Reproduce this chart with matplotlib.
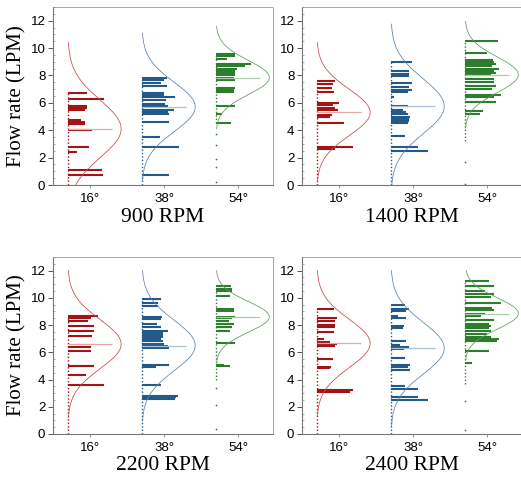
import numpy as np
import matplotlib
matplotlib.use("Agg")
import matplotlib.pyplot as plt
from matplotlib.ticker import MultipleLocator

rpm_labels = ["900 RPM", "1400 RPM", "2200 RPM", "2400 RPM"]
angles = ["16°", "38°", "54°"]

# stacked-dot bars: flow value and number of stacked points
v900_16 = [6.7, 6.25, 5.8, 5.65, 5.5, 4.75, 4.6, 4.45, 4.0, 2.8, 2.4, 1.1, 0.7]
n900_16 = [19, 36, 19, 19, 17, 13, 17, 17, 24, 21, 9, 34, 35]
v900_38 = [7.8, 7.65, 7.45, 7.2, 6.7, 6.6, 6.4, 6.2, 5.9, 5.75, 5.5, 5.35, 5.15, 4.6, 3.5, 2.75, 0.75]
n900_38 = [25, 22, 19, 25, 22, 22, 33, 24, 23, 26, 32, 26, 27, 27, 18, 37, 27]
v900_54 = [9.6, 9.4, 9.2, 8.85, 8.7, 8.5, 8.3, 8.2, 8.0, 7.85, 7.75, 7.65, 7.1, 6.95, 6.8, 5.8, 5.15, 4.5]
n900_54 = [19, 19, 11, 35, 29, 21, 19, 19, 19, 18, 19, 19, 19, 18, 18, 19, 6, 15]

v1400_16 = [7.6, 7.4, 7.1, 6.8, 6.0, 5.85, 5.6, 5.45, 5.1, 4.95, 4.5, 2.75, 2.6]
n1400_16 = [18, 16, 15, 17, 22, 16, 18, 21, 15, 13, 27, 36, 18]
v1400_38 = [8.95, 8.3, 8.1, 7.95, 7.45, 7.15, 6.95, 6.8, 6.4, 5.8, 5.5, 5.3, 5.2, 5.0, 4.85, 4.7, 4.55, 3.55, 2.75, 2.45]
n1400_38 = [21, 18, 18, 18, 21, 18, 21, 17, 3, 17, 12, 15, 17, 19, 18, 18, 17, 14, 27, 37]
v1400_54 = [10.5, 9.65, 9.1, 9.0, 8.85, 8.7, 8.5, 8.35, 8.2, 8.0, 7.75, 7.5, 7.2, 7.0, 6.6, 6.45, 6.05, 5.4, 5.15]
n1400_54 = [33, 22, 28, 29, 31, 27, 34, 29, 31, 26, 29, 29, 31, 27, 36, 29, 31, 18, 15]

v2200_16 = [8.65, 8.5, 8.3, 7.95, 7.6, 7.2, 6.4, 6.1, 5.0, 4.35, 3.6]
n2200_16 = [30, 23, 20, 26, 26, 24, 23, 23, 26, 18, 36]
v2200_38 = [9.9, 9.6, 9.4, 8.6, 8.45, 8.05, 7.85, 7.6, 7.45, 7.25, 7.1, 6.95, 6.8, 6.6, 6.45, 6.35,
            5.1, 4.95, 3.6, 2.8, 2.7, 2.6]
n2200_38 = [19, 16, 16, 20, 19, 15, 19, 26, 21, 21, 21, 19, 21, 22, 26, 27, 27, 14, 19, 36, 34, 33]
v2200_54 = [10.85, 10.65, 10.5, 10.1, 9.2, 9.05, 8.6, 8.5, 8.3, 8.1, 7.85, 7.6, 6.7, 5.1, 5.0]
n2200_54 = [15, 16, 16, 14, 18, 18, 19, 16, 13, 18, 16, 14, 19, 8, 14]

v2400_16 = [9.2, 8.5, 8.3, 8.0, 7.85, 7.5, 6.95, 6.75, 6.6, 6.5, 5.5, 4.95, 4.85, 3.2, 3.1]
n2400_16 = [17, 20, 18, 18, 18, 17, 7, 13, 20, 18, 16, 14, 13, 36, 33]
v2400_38 = [9.45, 9.2, 9.0, 8.7, 8.5, 7.9, 7.75, 6.8, 6.55, 6.4, 6.25, 5.6, 5.1, 4.95, 4.7, 3.55, 3.3, 2.75, 2.5]
n2400_38 = [14, 18, 15, 7, 15, 13, 12, 15, 9, 18, 13, 14, 19, 17, 19, 14, 27, 27, 37]
v2400_54 = [11.25, 10.85, 10.5, 10.25, 10.05, 9.6, 9.25, 9.1, 8.85, 8.65, 8.35, 8.1, 7.95, 7.75,
            7.6, 7.35, 7.15, 6.95, 6.85, 6.1, 5.25]
n2400_54 = [24, 29, 20, 29, 26, 36, 27, 29, 20, 16, 29, 24, 26, 24, 26, 22, 26, 34, 32, 24, 7]

# range of the raw point column and loose single points
col900 = [(0.0, 6.7), (0.0, 7.8), (4.5, 9.6)]
col1400 = [(0.0, 7.6), (0.0, 8.95), (3.2, 10.5)]
col2200 = [(0.0, 8.7), (0.0, 9.9), (4.0, 10.85)]
col2400 = [(0.0, 9.2), (0.0, 9.45), (3.7, 11.25)]
single900_54 = [3.7, 2.9, 1.9, 1.3, 0.25]
single1400_54 = [1.7, 0.1]
single2200_54 = [3.4, 2.1, 0.35]
single2400_54 = [2.4, 0.3]

# normal fit: mean and standard deviation
mu900, sd900 = [4.1, 5.7, 7.85], [2.1, 1.8, 1.25]
mu1400, sd1400 = [5.3, 5.75, 8.05], [1.7, 2.0, 1.3]
mu2200, sd2200 = [6.6, 6.5, 8.6], [1.8, 1.85, 1.13]
mu2400, sd2400 = [6.65, 6.3, 8.85], [1.78, 1.9, 1.15]

colors = ["#a31515", "#245a8a", "#2e7d2e"]
curve_colors = ["#c44a4a", "#5a82ad", "#5c9c5c"]
mean_colors = ["#e8a8a8", "#a8c0da", "#a8d0a8"]

panels = [
    ([v900_16, v900_38, v900_54], [n900_16, n900_38, n900_54], col900,
     [[], [], single900_54], mu900, sd900),
    ([v1400_16, v1400_38, v1400_54], [n1400_16, n1400_38, n1400_54], col1400,
     [[], [], single1400_54], mu1400, sd1400),
    ([v2200_16, v2200_38, v2200_54], [n2200_16, n2200_38, n2200_54], col2200,
     [[], [], single2200_54], mu2200, sd2200),
    ([v2400_16, v2400_38, v2400_54], [n2400_16, n2400_38, n2400_54], col2400,
     [[], [], single2400_54], mu2400, sd2400),
]

fig = plt.figure(figsize=(5.21, 4.79), dpi=100)
rects = [
    [53 / 521, 1 - 185 / 479, 220 / 521, 178 / 479],
    [302 / 521, 1 - 185 / 479, 220 / 521, 178 / 479],
    [53 / 521, 1 - 434 / 479, 220 / 521, 177 / 479],
    [302 / 521, 1 - 434 / 479, 220 / 521, 177 / 479],
]

dot_w = 1 / 74.0
offset = -0.30
peak = 0.72
mean_len = 0.60

for k, (vals, cnts, cols, singles, mus, sds) in enumerate(panels):
    ax = fig.add_axes(rects[k])
    for i in range(3):
        pos = i + 1
        base = pos + offset
        c = colors[i]
        lo, hi = cols[i]
        ax.vlines(base, lo, hi, color=c, lw=1.0, linestyles=(0, (1, 1.5)))
        if singles[i]:
            ax.scatter(np.full(len(singles[i]), base), singles[i], s=1.5, color=c, lw=0)
        v = np.array(vals[i])
        n = np.array(cnts[i])
        ax.hlines(v, base, base + n * dot_w, color=c, lw=1.5)
        # normal curve
        y = np.linspace(max(0, mus[i] - 3 * sds[i]), min(12, mus[i] + 3 * sds[i]), 300)
        x = base + peak * np.exp(-(y - mus[i]) ** 2 / (2 * sds[i] ** 2))
        ax.plot(x, y, color=curve_colors[i], lw=0.55)
        ax.hlines(mus[i], base, base + mean_len, color=mean_colors[i], lw=0.9)

    ax.set_xlim(0.5, 3.47)
    ax.set_ylim(0, 13)
    ax.set_xticks([1, 2, 3])
    ax.set_xticklabels(angles, family="Liberation Sans", fontsize=9.5)
    ax.set_yticks(range(0, 13, 2))
    ax.set_yticklabels([str(t) for t in range(0, 13, 2)], family="Liberation Sans", fontsize=9.5)
    ax.yaxis.set_minor_locator(MultipleLocator(0.5))
    ax.tick_params(axis="y", which="major", direction="out", length=3.5, width=0.7,
                   colors="#555555", labelcolor="black", pad=2)
    ax.tick_params(axis="y", which="minor", direction="in", length=1.5, width=0.5, colors="#888888")
    ax.tick_params(axis="x", which="major", direction="out", length=2, width=0.6,
                   colors="#888888", labelcolor="black", pad=4)
    for side in ["left", "bottom"]:
        ax.spines[side].set_color("#777777")
        ax.spines[side].set_linewidth(0.8)
    for side in ["top", "right"]:
        ax.spines[side].set_color("#999999")
        ax.spines[side].set_linewidth(0.6)
        ax.spines[side].set_linestyle((0, (1, 1)))

    ax.text(0.5, -0.18, rpm_labels[k], transform=ax.transAxes, ha="center", va="center",
            family="Liberation Serif", fontsize=15.5)
    if k % 2 == 0:
        ax.set_ylabel("Flow rate (LPM)", family="Liberation Serif", fontsize=15)
        ax.yaxis.set_label_coords(-0.12, 0.5)

fig.savefig("out.png", dpi=100)
